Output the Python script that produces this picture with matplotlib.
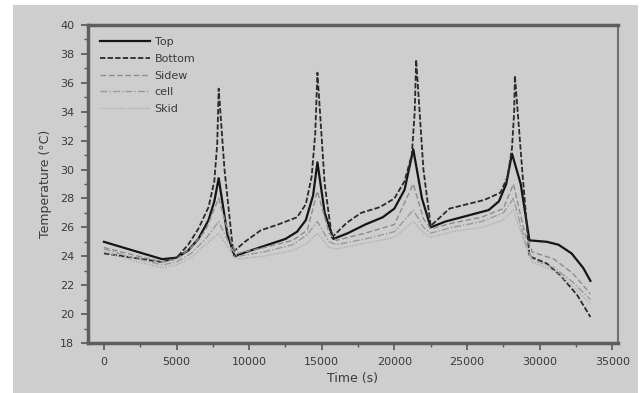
import matplotlib
matplotlib.use("Agg")
import matplotlib.pyplot as plt
from matplotlib.patches import Rectangle
from matplotlib.ticker import MultipleLocator

# tiempos (s) y temperaturas (°C)
t_top = [0, 2000, 4000, 5000, 5800, 6500, 7200, 7600, 7900, 8500, 9000, 9800, 11000, 12500,
         13300, 13900, 14400, 14700, 15200, 15800, 16800, 18000, 19200, 20000, 20700,
         21300, 21900, 22500, 23500, 25000, 26500, 27200, 27700, 28100, 28700, 29300,
         30500, 31300, 32200, 33000, 33500]
top = [25.0, 24.4, 23.8, 23.9, 24.4, 25.2, 26.5, 27.8, 29.4, 25.5, 24.0, 24.3, 24.7, 25.2,
       25.7, 26.5, 28.2, 30.5, 27.0, 25.2, 25.6, 26.2, 26.7, 27.3, 28.6,
       31.4, 28.0, 26.0, 26.4, 26.8, 27.2, 27.8, 29.0, 31.1, 29.0, 25.1,
       25.0, 24.8, 24.2, 23.2, 22.3]

t_bottom = [0, 2000, 4000, 5000, 5800, 6500, 7200, 7600, 7800, 7900, 8300, 8900, 9700, 10800,
            12000, 13300, 13900, 14300, 14550, 14700, 15200, 15700, 16700, 17700, 19000,
            20000, 20700, 21200, 21400, 21500, 22000, 22500, 23800, 25000, 26200, 27300,
            27800, 28100, 28250, 28300, 28800, 29300, 30500, 31500, 32600, 33500]
bottom = [24.2, 23.9, 23.6, 23.9, 24.8, 25.9, 27.4, 29.2, 31.8, 35.6, 30.0, 24.3, 25.0, 25.8,
          26.2, 26.7, 27.6, 29.5, 32.5, 36.7, 29.0, 25.3, 26.3, 27.0, 27.4,
          28.0, 29.2, 31.0, 34.0, 37.6, 30.0, 26.1, 27.3, 27.6, 27.9, 28.4,
          29.5, 31.5, 34.0, 36.5, 30.0, 24.0, 23.5, 22.6, 21.3, 19.8]

t_gris = [0, 2000, 4000, 5000, 6000, 7000, 7900, 8800, 9200, 11000, 13000, 14000, 14700,
          15500, 16000, 18000, 20000, 21300, 22000, 22500, 24000, 26000, 27500, 28200,
          29000, 29500, 31000, 32300, 33500]
sidew = [24.6, 24.1, 23.6, 23.8, 24.6, 25.8, 28.0, 24.8, 24.2, 24.6, 25.1, 25.8, 28.5,
         25.6, 25.1, 25.6, 26.2, 29.0, 26.6, 25.9, 26.3, 26.7, 27.3, 29.0,
         25.5, 24.3, 23.8, 22.8, 21.4]
cell = [24.5, 23.9, 23.4, 23.6, 24.2, 25.2, 26.4, 24.5, 24.0, 24.3, 24.8, 25.5, 26.4,
        25.0, 24.8, 25.2, 25.7, 27.2, 26.0, 25.6, 26.0, 26.4, 27.0, 28.0,
        25.0, 23.8, 23.2, 22.2, 21.0]
skid = [24.3, 23.7, 23.2, 23.4, 23.9, 24.8, 25.6, 24.2, 23.8, 24.0, 24.4, 24.9, 25.6,
        24.6, 24.5, 24.9, 25.3, 26.4, 25.6, 25.3, 25.7, 26.0, 26.5, 27.2,
        24.8, 23.6, 23.0, 21.9, 20.7]

fondo = '#cecece'
texto = '#3a3a3a'

fig = plt.figure(figsize=(6.41, 3.93), dpi=100, facecolor='white')
fig.patches.append(Rectangle((13 / 641, 0), 625 / 641, 388 / 393, transform=fig.transFigure,
                             facecolor=fondo, edgecolor='none', zorder=-10))
ax = fig.add_axes([88 / 641, 50 / 393, 530 / 641, 318 / 393])
ax.set_facecolor(fondo)

ax.plot(t_top, top, color='#151515', lw=1.6, label='Top')
ax.plot(t_bottom, bottom, color='#2a2a2a', lw=1.3, ls=(0, (3, 1.2)), label='Bottom')
ax.plot(t_gris, sidew, color='#8c8c8c', lw=1.0, ls=(0, (4, 2)), label='Sidew')
ax.plot(t_gris, cell, color='#9a9a9a', lw=1.0, ls=(0, (5, 1.5, 1, 1.5)), label='cell')
ax.plot(t_gris, skid, color='#adadad', lw=1.0, ls=(0, (1, 1)), label='Skid')

ax.set_xlim(-1100, 35400)
ax.set_ylim(18, 40)
ax.xaxis.set_major_locator(MultipleLocator(5000))
ax.xaxis.set_minor_locator(MultipleLocator(2500))
ax.yaxis.set_major_locator(MultipleLocator(2))
ax.yaxis.set_minor_locator(MultipleLocator(1))
ax.tick_params(which='both', direction='out', colors='#555555', labelcolor=texto, labelsize=8)
ax.tick_params(which='major', length=5, width=1.2, pad=5)
ax.tick_params(which='minor', length=3, width=1.0)

for lado in ['left', 'top', 'bottom']:
    ax.spines[lado].set_linewidth(2.5)
    ax.spines[lado].set_color('#5e5e5e')
ax.spines['right'].set_linewidth(1.5)
ax.spines['right'].set_color('#707070')

ax.set_xlabel('Time (s)', fontsize=9, color=texto, labelpad=4)
ax.set_ylabel('Temperature (°C)', fontsize=9, color=texto, labelpad=6)

ax.legend(loc='upper left', frameon=False, fontsize=8, handlelength=4.5, labelspacing=0.6,
          borderaxespad=0.7, handletextpad=0.4, labelcolor=texto)

fig.savefig('out.png', dpi=100, facecolor=fig.get_facecolor())
